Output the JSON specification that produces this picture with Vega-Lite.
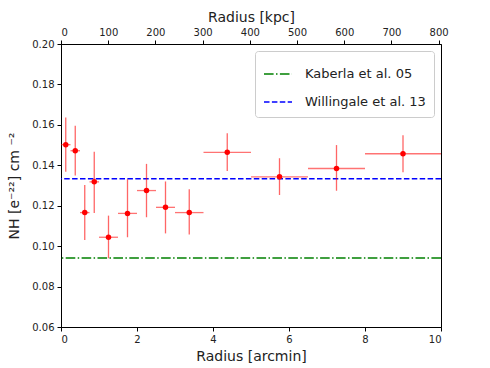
{
  "$schema": "https://vega.github.io/schema/vega-lite/v6.json",
  "autosize": {"type": "none"},
  "padding": {"left": 61, "top": 44, "right": 49, "bottom": 41},
  "width": 380,
  "height": 283,
  "config": {
    "view": {"stroke": "#000000", "strokeWidth": 1},
    "font": "DejaVu Sans",
    "axis": {
      "grid": false,
      "domainColor": "#000000",
      "domainWidth": 1,
      "tickColor": "#000000",
      "tickSize": 4,
      "labelFont": "DejaVu Sans",
      "labelFontSize": 10,
      "labelColor": "#222222",
      "labelPadding": 3,
      "titleFont": "DejaVu Sans",
      "titleFontSize": 14,
      "titleFontWeight": "normal",
      "titleColor": "#222222"
    },
    "legend": {
      "labelFont": "DejaVu Sans"
    }
  },
  "layer": [
    {
      "layer": [
        {
          "data": {
            "values": [
              {"name": "Kaberla et al. 05", "nh": 0.0941},
              {"name": "Willingale et al. 13", "nh": 0.1333}
            ]
          },
          "mark": {"type": "rule", "strokeWidth": 1.5},
          "encoding": {
            "y": {"field": "nh", "type": "quantitative"},
            "color": {
              "field": "name",
              "type": "nominal",
              "scale": {
                "domain": ["Kaberla et al. 05", "Willingale et al. 13"],
                "range": ["#008000", "#0000ff"]
              },
              "legend": {
                "title": null,
                "orient": "top-right",
                "offset": 7,
                "padding": 8,
                "fillColor": "#ffffff",
                "strokeColor": "#cccccc",
                "cornerRadius": 3,
                "labelFontSize": 13,
                "labelColor": "#222222",
                "symbolType": "stroke",
                "symbolSize": 784,
                "symbolStrokeWidth": 1.5,
                "rowPadding": 6,
                "labelOffset": 12
              }
            },
            "strokeDash": {
              "field": "name",
              "type": "nominal",
              "scale": {
                "domain": ["Kaberla et al. 05", "Willingale et al. 13"],
                "range": [[9.6, 2.4, 1.5, 2.4], [5.5, 2.4]]
              },
              "legend": {
                "title": null,
                "orient": "top-right",
                "offset": 7,
                "padding": 8,
                "fillColor": "#ffffff",
                "strokeColor": "#cccccc",
                "cornerRadius": 3,
                "labelFontSize": 13,
                "labelColor": "#222222",
                "symbolType": "stroke",
                "symbolSize": 784,
                "symbolStrokeWidth": 1.5,
                "rowPadding": 6,
                "labelOffset": 12
              }
            }
          }
        },
        {
          "data": {"name": "pts", "values": [
            {"r": 0.125, "rlo": 0.0, "rhi": 0.25, "nh": 0.1502, "nlo": 0.1368, "nhi": 0.1636},
            {"r": 0.375, "rlo": 0.25, "rhi": 0.5, "nh": 0.1472, "nlo": 0.1350, "nhi": 0.1595},
            {"r": 0.625, "rlo": 0.5, "rhi": 0.75, "nh": 0.1166, "nlo": 0.1030, "nhi": 0.1303},
            {"r": 0.875, "rlo": 0.75, "rhi": 1.0, "nh": 0.1318, "nlo": 0.1164, "nhi": 0.1467},
            {"r": 1.25, "rlo": 1.0, "rhi": 1.5, "nh": 0.1044, "nlo": 0.0940, "nhi": 0.1151},
            {"r": 1.75, "rlo": 1.5, "rhi": 2.0, "nh": 0.1162, "nlo": 0.1044, "nhi": 0.1331},
            {"r": 2.25, "rlo": 2.0, "rhi": 2.5, "nh": 0.1275, "nlo": 0.1143, "nhi": 0.1407},
            {"r": 2.75, "rlo": 2.5, "rhi": 3.0, "nh": 0.1192, "nlo": 0.1063, "nhi": 0.1320},
            {"r": 3.375, "rlo": 3.0, "rhi": 3.75, "nh": 0.1166, "nlo": 0.1058, "nhi": 0.1282},
            {"r": 4.375, "rlo": 3.75, "rhi": 5.0, "nh": 0.1464, "nlo": 0.1372, "nhi": 0.1558},
            {"r": 5.75, "rlo": 5.0, "rhi": 6.5, "nh": 0.1343, "nlo": 0.1253, "nhi": 0.1435},
            {"r": 7.25, "rlo": 6.5, "rhi": 8.0, "nh": 0.1384, "nlo": 0.1274, "nhi": 0.1500},
            {"r": 9.0, "rlo": 8.0, "rhi": 10.0, "nh": 0.1457, "nlo": 0.1366, "nhi": 0.1549}
          ]},
          "layer": [
            {
              "mark": {"type": "rule", "color": "#ff0000", "opacity": 0.55, "strokeWidth": 1.3},
              "encoding": {
                "x": {"field": "rlo", "type": "quantitative"},
                "x2": {"field": "rhi"},
                "y": {"field": "nh", "type": "quantitative"}
              }
            },
            {
              "mark": {"type": "rule", "color": "#ff0000", "opacity": 0.6, "strokeWidth": 1.3},
              "encoding": {
                "x": {"field": "r", "type": "quantitative"},
                "y": {"field": "nlo", "type": "quantitative"},
                "y2": {"field": "nhi"}
              }
            },
            {
              "mark": {"type": "point", "filled": true, "color": "#ff0000", "opacity": 1, "size": 30},
              "encoding": {
                "x": {
                  "field": "r",
                  "type": "quantitative",
                  "scale": {"domain": [0, 10], "nice": false, "zero": false},
                  "axis": {"orient": "bottom", "title": "Radius [arcmin]", "values": [0, 2, 4, 6, 8, 10], "titlePadding": 5}
                },
                "y": {
                  "field": "nh",
                  "type": "quantitative",
                  "scale": {"domain": [0.06, 0.2], "nice": false, "zero": false},
                  "axis": {
                    "title": "NH [e⁻²²] cm ⁻²",
                    "values": [0.06, 0.08, 0.1, 0.12, 0.14, 0.16, 0.18, 0.2],
                    "format": ".2f",
                    "titlePadding": 10
                  }
                }
              }
            }
          ]
        }
      ]
    },
    {
      "data": {"values": [{"kpc": 0}, {"kpc": 805}]},
      "mark": {"type": "point", "opacity": 0},
      "encoding": {
        "x": {
          "field": "kpc",
          "type": "quantitative",
          "scale": {"domain": [0, 805], "nice": false, "zero": false},
          "axis": {"orient": "top", "title": "Radius [kpc]", "values": [0, 100, 200, 300, 400, 500, 600, 700, 800], "titlePadding": 3}
        }
      }
    }
  ],
  "resolve": {"scale": {"x": "independent"}}
}
